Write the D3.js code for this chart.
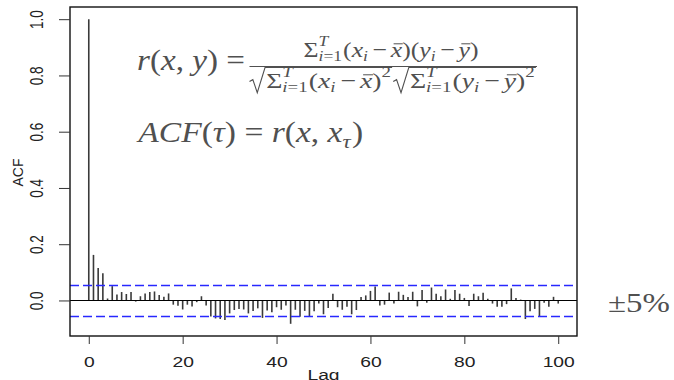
<!DOCTYPE html>
<html>
<head>
<meta charset="utf-8">
<script src="https://cdn.jsdelivr.net/npm/d3@7"></script>
<style>
	body { margin: 0; background: #fff; }
	svg { display: block; }
	.lbl { font-family: "Liberation Sans", Arial, sans-serif; fill: #222; }
	.math text { font-family: "Liberation Serif", "DejaVu Serif", serif; fill: #505050; }
</style>
</head>
<body>
<div id="svg"></div>
<script>
///////////////////////////////////////////////////////////////////////////////
//// Data /////////////////////////////////////////////////////////////////////
///////////////////////////////////////////////////////////////////////////////

const lags = d3.range(0, 101);

const acfValues = [
	1.000, 0.162, 0.115, 0.097, 0.007, 0.051, 0.021, 0.030, 0.023, 0.030,         // 0-9
	-0.004, 0.015, 0.025, 0.030, 0.032, 0.019, 0.013, 0.025, -0.015, -0.019,      // 10-19
	-0.032, -0.015, -0.021, -0.006, 0.015, -0.018, -0.057, -0.064, -0.066, -0.069, // 20-29
	-0.046, -0.034, -0.030, -0.032, -0.046, -0.037, -0.028, -0.062, -0.036, -0.042, // 30-39
	-0.024, -0.033, -0.018, -0.083, -0.033, -0.058, -0.037, -0.058, -0.038, -0.011, // 40-49
	-0.049, -0.027, 0.024, -0.024, -0.033, -0.022, -0.049, -0.034, 0.012, 0.018,  // 50-59
	0.034, 0.050, -0.018, -0.015, 0.028, -0.011, 0.031, 0.020, 0.012, 0.031,      // 60-69
	-0.021, 0.037, -0.008, 0.046, 0.024, 0.015, 0.039, 0.006, 0.037, 0.024,       // 70-79
	0.009, -0.020, 0.024, 0.015, 0.027, 0.006, -0.011, -0.022, -0.022, -0.013,    // 80-89
	0.043, 0.009, 0.003, -0.066, -0.038, -0.030, -0.056, -0.008, -0.022, 0.013,   // 90-99
	-0.011                                                                        // 100
];

const confBound = 0.054; // blue dashed significance band

const xTicks = [0, 20, 40, 60, 80, 100];
const yTicks = [0, 0.2, 0.4, 0.6, 0.8, 1.0];

///////////////////////////////////////////////////////////////////////////////
//// Set Up ///////////////////////////////////////////////////////////////////
///////////////////////////////////////////////////////////////////////////////

const width = 674,
			height = 380;

const box = { left: 70, right: 577, top: 7, bottom: 336 };
const stretch = 1.33; // the picture is wider than the font

const svg = d3.select("#svg").append("svg")
		.attr("width", width)
		.attr("height", height);

// R style 4% padding on both axes
const yLo = Math.min(d3.min(acfValues), -confBound),
			yHi = d3.max(acfValues);
const yPad = (yHi - yLo) * 0.04;

const x = d3.scaleLinear()
		.domain([0 - 100 * 0.04, 100 + 100 * 0.04])
		.range([box.left, box.right]);

const y = d3.scaleLinear()
		.domain([yLo - yPad, yHi + yPad])
		.range([box.bottom, box.top]);

///////////////////////////////////////////////////////////////////////////////
//// Plot /////////////////////////////////////////////////////////////////////
///////////////////////////////////////////////////////////////////////////////

svg.append("g")
	.selectAll("line")
	.data(lags)
	.enter().append("line")
		.attr("x1", d => x(d))
		.attr("x2", d => x(d))
		.attr("y1", y(0))
		.attr("y2", d => y(acfValues[d]))
		.attr("stroke", "#3a3a3a")
		.attr("stroke-width", 1.6);

svg.append("line")
		.attr("x1", box.left)
		.attr("x2", box.right)
		.attr("y1", y(0))
		.attr("y2", y(0))
		.attr("stroke", "#000")
		.attr("stroke-width", 1.1);

svg.selectAll(".ci")
	.data([confBound, -confBound])
	.enter().append("line")
		.attr("class", "ci")
		.attr("x1", box.left)
		.attr("x2", box.right)
		.attr("y1", d => Math.round(y(d)) + 0.5)
		.attr("y2", d => Math.round(y(d)) + 0.5)
		.style("stroke", "rgb(40, 40, 255)")
		.style("stroke-width", "1.3px")
		.style("stroke-dasharray", "9 4");

svg.append("rect")
		.attr("x", box.left)
		.attr("y", box.top)
		.attr("width", box.right - box.left)
		.attr("height", box.bottom - box.top)
		.attr("fill", "none")
		.attr("stroke", "#111")
		.attr("stroke-width", 1.4);

///////////////////////////////////////////////////////////////////////////////
//// Axes /////////////////////////////////////////////////////////////////////
///////////////////////////////////////////////////////////////////////////////

const xAxis = svg.append("g")
		.attr("transform", `translate(0, ${box.bottom})`)
		.call(d3.axisBottom(x).tickValues(xTicks).tickSize(8).tickFormat(d3.format("d")));
xAxis.select(".domain").remove();
xAxis.selectAll(".tick line").attr("stroke", "#333");
xAxis.selectAll(".tick text")
		.attr("class", "lbl")
		.attr("y", 31)
		.attr("dy", 0)
		.attr("transform", `scale(${stretch}, 1)`)
		.style("font-size", "14.5px");

const yAxis = svg.append("g")
		.attr("transform", `translate(${box.left}, 0)`)
		.call(d3.axisLeft(y).tickValues(yTicks).tickSize(11).tickFormat(d3.format(".1f")));
yAxis.select(".domain").remove();
yAxis.selectAll(".tick line").attr("stroke", "#333");
yAxis.selectAll(".tick text")
		.attr("class", "lbl")
		.attr("x", 0)
		.attr("y", 0)
		.attr("dy", 0)
		.attr("text-anchor", "middle")
		.attr("transform", `translate(-26.7, 0) scale(${stretch}, 1) rotate(-90)`)
		.style("font-size", "13.5px");

svg.append("text")
		.attr("class", "lbl")
		.attr("text-anchor", "middle")
		.attr("transform", `translate(22.7, ${(box.top + box.bottom) / 2 + 1}) scale(1.05, 1) rotate(-90)`)
		.style("font-size", "14px")
		.text("ACF");

svg.append("text")
		.attr("class", "lbl")
		.attr("text-anchor", "middle")
		.attr("transform", `translate(${(box.left + box.right) / 2}, 380) scale(${stretch}, 1)`)
		.style("font-size", "14.5px")
		.text("Lag");

///////////////////////////////////////////////////////////////////////////////
//// Formulas /////////////////////////////////////////////////////////////////
///////////////////////////////////////////////////////////////////////////////

const mathG = svg.append("g").attr("class", "math");
const ink = "#505050";

// letters in italic, everything else upright
function runs(sel, str) {
	(str.match(/[A-Za-zτ]+|[^A-Za-zτ]+/g) || []).forEach(p => {
		sel.append("tspan")
			.style("font-style", /[A-Za-zτ]/.test(p) ? "italic" : "normal")
			.text(p);
	});
	return sel;
}

function addText(g, str, xPos, yPos, fs) {
	const t = g.append("text")
			.attr("x", xPos)
			.attr("y", yPos)
			.style("font-size", fs + "px");
	runs(t, str);
	return t.node().getComputedTextLength();
}

function stroke(sel, w) {
	return sel.attr("fill", "none")
			.attr("stroke", ink)
			.attr("stroke-width", w)
			.attr("vector-effect", "non-scaling-stroke");
}

function mathRow(g, items, fs, x0) {
	let cx = x0;
	items.forEach(it => {
		if (typeof it === "string") {
			cx += addText(g, it, cx, 0, fs);
		} else if (it.op) {
			const pad = fs * 0.14;
			cx += addText(g, it.op, cx + pad, 0, fs) + 2 * pad;
		} else if (it.bar) {
			const w = addText(g, it.bar, cx, 0, fs);
			stroke(g.append("line"), 1)
					.attr("x1", cx + w * 0.25).attr("x2", cx + w * 1.05)
					.attr("y1", -fs * 0.6).attr("y2", -fs * 0.6);
			cx += w;
		} else if (it.sqrt) {
			const start = cx,
						inner = cx + fs * 0.6;
			const end = mathRow(g, it.sqrt, fs, inner);
			const top = -fs * 0.93;
			stroke(g.append("path"), 1.1)
					.attr("d", `M${start},${-fs * 0.3} L${start + fs * 0.12},${-fs * 0.38} ` +
						`L${start + fs * 0.28},${fs * 0.21} L${inner - fs * 0.04},${top} L${end},${top}`);
			cx = end + fs * 0.04;
		} else {
			const s = fs * 0.68;
			let w = 0;
			if (it.sup) w = Math.max(w, addText(g, it.sup, cx, -fs * 0.48, s));
			if (it.sub) w = Math.max(w, addText(g, it.sub, cx, fs * 0.2, s));
			cx += w + fs * 0.04;
		}
	});
	return cx;
}

// lay a row out, then stretch it to the span it covers in the picture
function placeRow(items, fs, left, right, baseline) {
	const g = mathG.append("g");
	const w = mathRow(g, items, fs, 0);
	g.attr("transform", `translate(${left}, ${baseline}) scale(${(right - left) / w}, 1)`);
}

const sumPart = ["Σ", { sup: "T", sub: "i=1" }];

placeRow(["r(x, y) ="], 29, 137, 245, 70);

placeRow(sumPart.concat(["(x", { sub: "i" }, { op: "−" }, { bar: "x" }, ")(y", { sub: "i" }, { op: "−" }, { bar: "y" }, ")"]),
	22, 303.5, 478.5, 57);

stroke(mathG.append("line"), 1.1)
		.attr("x1", 249.5).attr("x2", 537)
		.attr("y1", 66.5).attr("y2", 66.5);

placeRow([
	{ sqrt: sumPart.concat(["(x", { sub: "i" }, { op: "−" }, { bar: "x" }, ")", { sup: "2" }]) },
	{ sqrt: sumPart.concat(["(y", { sub: "i" }, { op: "−" }, { bar: "y" }, ")", { sup: "2" }]) }
], 22, 249.5, 537, 88);

placeRow(["ACF(τ) = r(x, x", { sub: "τ" }, ")"], 29, 138.3, 363.3, 142);

placeRow(["±5%"], 28, 608, 670, 312);
</script>
</body>
</html>
